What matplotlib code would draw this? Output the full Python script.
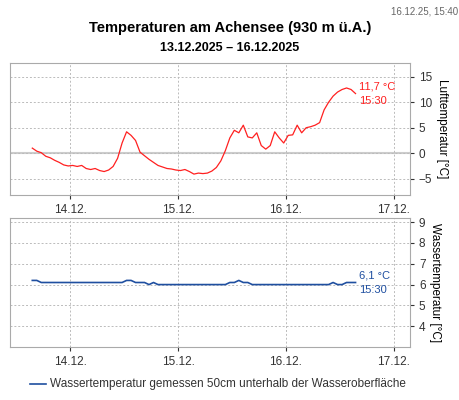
import numpy as np
import matplotlib
matplotlib.use("Agg")
import matplotlib.pyplot as plt

plt.rcParams["font.family"] = ["Liberation Sans", "DejaVu Sans"]

# hourly readings, starting 13.12. 15:30 (hours since 13.12. 00:00)
start_hour = 15.5
air_temp = [1.0, 0.4, 0.1, -0.6, -0.9, -1.4, -1.8, -2.3, -2.5,
            -2.4, -2.6, -2.4, -3.0, -3.2, -3.0, -3.4, -3.6, -3.3, -2.6, -1.0,
            2.0, 4.2, 3.5, 2.5, 0.2, -0.5, -1.2, -1.8, -2.4, -2.7, -3.0, -3.1, -3.3,
            -3.4, -3.2, -3.6, -4.1, -3.9, -4.0, -3.9, -3.5, -2.8, -1.5, 0.5,
            3.0, 4.5, 4.0, 5.5, 3.2, 3.0, 4.0, 1.5, 0.8, 1.5, 4.2, 3.0, 2.0,
            3.5, 3.6, 5.5, 4.0, 5.0, 5.2, 5.5, 6.0, 8.5, 10.0, 11.2, 12.0,
            12.5, 12.8, 12.5, 11.7]
water_temp = [6.2, 6.2, 6.1, 6.1, 6.1, 6.1, 6.1, 6.1, 6.1,
              6.1, 6.1, 6.1, 6.1, 6.1, 6.1, 6.1, 6.1, 6.1, 6.1, 6.1,
              6.1, 6.2, 6.2, 6.1, 6.1, 6.1, 6.0, 6.1, 6.0, 6.0, 6.0, 6.0, 6.0,
              6.0, 6.0, 6.0, 6.0, 6.0, 6.0, 6.0, 6.0, 6.0, 6.0, 6.0,
              6.1, 6.1, 6.2, 6.1, 6.1, 6.0, 6.0, 6.0, 6.0, 6.0, 6.0, 6.0, 6.0,
              6.0, 6.0, 6.0, 6.0, 6.0, 6.0, 6.0, 6.0, 6.0, 6.0, 6.1, 6.0,
              6.0, 6.1, 6.1, 6.1]
day_ticks = [14, 15, 16, 17]
day_labels = ["14.12.", "15.12.", "16.12.", "17.12."]

t_air = 13 + (start_hour + np.arange(len(air_temp))) / 24
t_water = 13 + (start_hour + np.arange(len(water_temp))) / 24

fig = plt.figure(figsize=(4.6, 4.0), dpi=100)
ax1 = fig.add_axes([0.022, 0.5125, 0.869, 0.33])
ax2 = fig.add_axes([0.022, 0.1325, 0.869, 0.3225])

frame = "#aaaaaa"
for ax in (ax1, ax2):
    ax.set_xlim(13.44, 17.15)
    ax.set_xticks(day_ticks)
    ax.set_xticklabels(day_labels)
    ax.yaxis.tick_right()
    ax.yaxis.set_label_position("right")
    ax.grid(True, color="#bbbbbb", linestyle=(0, (2, 2)), linewidth=0.7)
    ax.tick_params(labelsize=8.5, colors="#333333", length=3)
    for s in ax.spines.values():
        s.set_color(frame)

ax1.plot(t_air, air_temp, color="#ff2020", linewidth=0.9)
ax1.axhline(0, color="#cccccc", linewidth=1.5, zorder=0)
ax1.set_ylim(-8.2, 17.7)
ax1.set_yticks([-5, 0, 5, 10, 15])
ax1.set_ylabel("Lufttemperatur [°C]", fontsize=8.5, rotation=270, labelpad=11)
ax1.text(16.68, 13.0, "11,7 °C", color="#ff2020", fontsize=8, va="center")
ax1.text(16.68, 10.3, "15:30", color="#ff2020", fontsize=8, va="center")

ax2.plot(t_water, water_temp, color="#1f4fa0", linewidth=1.2)
ax2.set_ylim(3.0, 9.2)
ax2.set_yticks([4, 5, 6, 7, 8, 9])
ax2.set_ylabel("Wassertemperatur [°C]", fontsize=8.5, rotation=270, labelpad=11)
ax2.text(16.68, 6.45, "6,1 °C", color="#1f4fa0", fontsize=8, va="center")
ax2.text(16.68, 5.75, "15:30", color="#1f4fa0", fontsize=8, va="center")

fig.text(0.5, 0.92, "Temperaturen am Achensee (930 m ü.A.)", ha="center",
         fontsize=10.5, fontweight="bold")
fig.text(0.5, 0.872, "13.12.2025 – 16.12.2025", ha="center",
         fontsize=9, fontweight="bold")
fig.text(0.995, 0.985, "16.12.25, 15:40", ha="right", va="top",
         fontsize=7, color="#666666")

fig.lines.append(plt.Line2D([0.065, 0.1], [0.04, 0.04], color="#1f4fa0",
                            linewidth=1.2, transform=fig.transFigure))
fig.text(0.108, 0.04, "Wassertemperatur gemessen 50cm unterhalb der Wasseroberfläche",
         va="center", fontsize=8.5, color="#333333")

fig.savefig("out.png", dpi=100)
